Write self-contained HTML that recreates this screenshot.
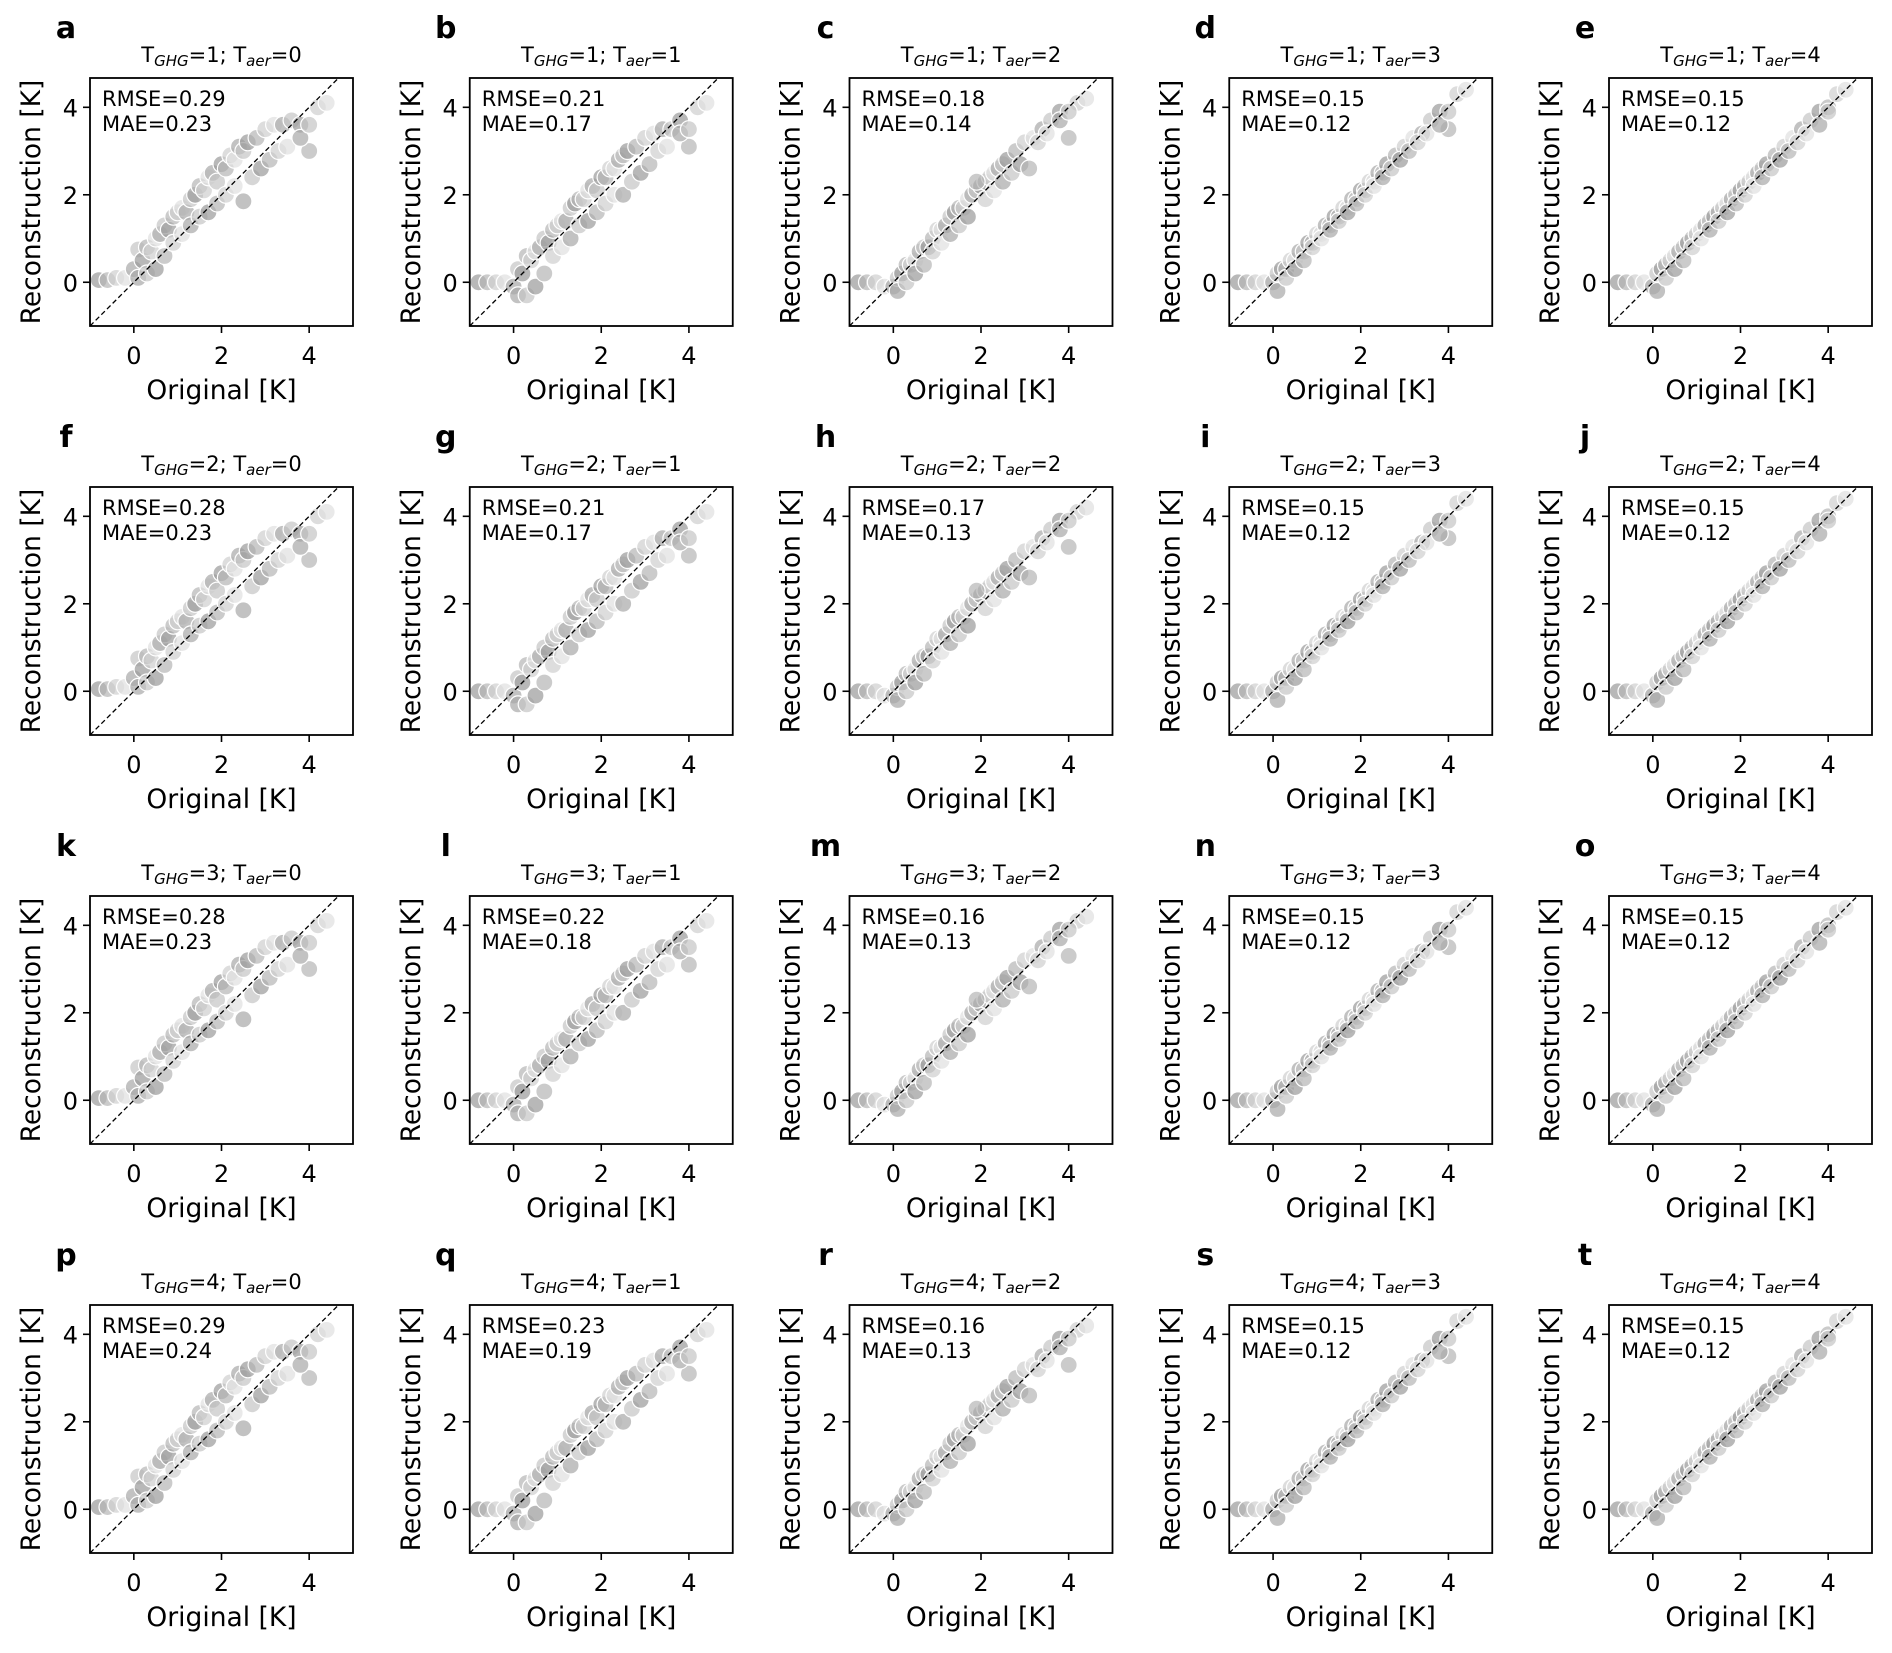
<!DOCTYPE html>
<html><head><meta charset="utf-8">
<style>
html,body{margin:0;padding:0;background:#fff;}
svg{display:block;font-family:"DejaVu Sans","Liberation Sans",sans-serif;}
</style></head>
<body>
<svg id="fig" width="1892" height="1653" viewBox="0 0 1892 1653" xmlns="http://www.w3.org/2000/svg"></svg>
<script>
const panelLetters = ["a","b","c","d","e","f","g","h","i","j","k","l","m","n","o","p","q","r","s","t"];
const ghgValues = [1,2,3,4];
const aerValues = [0,1,2,3,4];
const rmseValues = [0.29,0.21,0.18,0.15,0.15, 0.28,0.21,0.17,0.15,0.15, 0.28,0.22,0.16,0.15,0.15, 0.29,0.23,0.16,0.15,0.15];
const maeValues = [0.23,0.17,0.14,0.12,0.12, 0.23,0.17,0.13,0.12,0.12, 0.23,0.18,0.13,0.12,0.12, 0.24,0.19,0.13,0.12,0.12];
const xTicks = [0,2,4];
const yTicks = [0,2,4];
const original = [-0.8,-0.6,-0.4,-0.2,0.0,0.1,0.2,0.3,0.4,0.5,0.6,0.7,0.8,0.9,1.0,1.1,1.2,1.3,1.4,1.5,1.6,1.7,1.8,1.9,2.0,2.1,2.2,2.3,2.4,2.5,2.6,2.8,3.0,3.2,3.4,3.6,3.8,4.0,4.2,4.4,
 0.1,0.3,0.5,0.7,0.9,1.1,1.3,1.5,1.7,1.9,2.1,2.3,2.5,2.7,2.9,3.1,3.3,3.5,3.8,4.0];
const reconAer0 = [0.05,0.05,0.1,0.1,0.3,0.75,0.5,0.8,0.7,1.0,1.1,1.3,1.2,1.5,1.6,1.7,1.6,1.9,2.0,2.2,2.1,2.4,2.5,2.3,2.7,2.6,2.9,2.8,3.1,3.0,3.2,3.3,3.5,3.6,3.6,3.7,3.6,3.0,4.0,4.1,
 0.1,0.2,0.3,0.6,0.9,1.1,1.3,1.5,1.6,1.8,2.0,2.2,1.85,2.4,2.6,2.8,3.0,3.1,3.3,3.6];
const reconAer1 = [0.0,0.0,0.0,0.0,-0.1,0.3,0.2,0.6,0.5,0.7,0.8,1.0,0.9,1.2,1.3,1.4,1.4,1.7,1.8,1.9,1.9,2.1,2.2,2.1,2.4,2.4,2.6,2.6,2.8,2.9,3.0,3.1,3.3,3.4,3.5,3.5,3.7,3.1,4.0,4.1,
 -0.3,-0.3,-0.1,0.2,0.6,0.8,1.0,1.3,1.4,1.6,1.8,2.0,2.0,2.3,2.5,2.7,3.0,3.1,3.4,3.5];
const reconAer2 = [0.0,0.0,0.0,-0.1,-0.1,0.1,0.2,0.4,0.4,0.5,0.7,0.8,0.8,1.0,1.2,1.2,1.3,1.5,1.6,1.7,1.7,1.9,2.0,2.1,2.2,2.3,2.4,2.5,2.6,2.7,2.8,3.0,3.2,3.3,3.5,3.7,3.9,3.3,4.1,4.2,
 -0.2,0.0,0.2,0.4,0.7,0.9,1.1,1.3,1.5,2.3,1.9,2.1,2.3,2.5,2.7,2.6,3.2,3.4,3.7,3.9];
const reconAer3 = [0.0,0.0,0.0,0.0,0.0,0.2,0.3,0.3,0.5,0.5,0.7,0.7,0.9,0.9,1.1,1.1,1.3,1.3,1.5,1.5,1.7,1.7,1.9,1.9,2.1,2.1,2.3,2.3,2.5,2.5,2.7,2.9,3.1,3.3,3.4,3.7,3.9,3.5,4.3,4.4,
 -0.2,0.1,0.3,0.5,0.8,1.0,1.2,1.4,1.6,1.8,2.0,2.2,2.4,2.6,2.8,3.0,3.2,3.4,3.6,3.9];
const reconAer4 = [0.0,0.0,0.0,0.0,-0.1,0.2,0.3,0.4,0.5,0.6,0.7,0.8,0.9,1.0,1.1,1.2,1.3,1.4,1.5,1.6,1.7,1.8,1.9,2.0,2.1,2.2,2.3,2.4,2.5,2.6,2.7,2.9,3.1,3.3,3.5,3.7,3.9,4.0,4.3,4.4,
 -0.2,0.1,0.3,0.5,0.8,1.0,1.2,1.4,1.6,1.8,2.0,2.2,2.4,2.6,2.8,3.0,3.2,3.4,3.6,3.9];
const reconByAer = [reconAer0, reconAer1, reconAer2, reconAer3, reconAer4];

const NS = "http://www.w3.org/2000/svg";
const svg = document.getElementById("fig");
function mk(tag, attrs, parent){
  const e = document.createElementNS(NS, tag);
  for (const k in attrs) e.setAttribute(k, attrs[k]);
  (parent||svg).appendChild(e);
  return e;
}
const W = 263, H = 248, X0 = -1, X1 = 5, Y0 = -1, Y1 = 4.67;
const colStep = 379.75, rowStep = 409;
const shades = ["#9a9a9a","#b5b5b5","#cfcfcf","#e0e0e0","#a8a8a8","#c4c4c4"];

for (let r = 0; r < 4; r++) {
  for (let c = 0; c < 5; c++) {
    const i = r*5 + c;
    const L = 90 + c*colStep, T = 78 + r*rowStep, B = T + H;
    const xs = v => L + (v - X0) * W / (X1 - X0);
    const ys = v => B - (v - Y0) * H / (Y1 - Y0);
    const g = mk("g", {});
    
    

    const clipId = "clip" + i;
    const cp = mk("clipPath", {id: clipId}, g);
    mk("rect", {x: L, y: T, width: W, height: H}, cp);
    const pts = mk("g", {"clip-path": "url(#" + clipId + ")"}, g);
    
    
    const rec = reconByAer[c];
    for (let k = 0; k < original.length; k++) {
      const ci = mk("circle", {cx: xs(original[k]).toFixed(1), cy: ys(rec[k]).toFixed(1), r: 8.5,
        fill: shades[k % shades.length], "fill-opacity": 0.7, stroke: "#fff", "stroke-width": 1.2}, pts);
      
      
    }
    const dl = mk("line", {x1: xs(-1), y1: ys(-1), x2: xs(5), y2: ys(5), stroke: "#000", "stroke-width": 1.3, "stroke-dasharray": "5,3"}, pts);
    
    

    const frame = mk("rect", {x: L, y: T, width: W, height: H, fill: "none", stroke: "#000", "stroke-width": 1.8}, g);
    
    

    for (const t of xTicks) {
      const x = xs(t);
      mk("line", {x1: x, y1: B, x2: x, y2: B + 7, stroke: "#000", "stroke-width": 1.6}, g);
      const tl = mk("text", {x: x, y: B + 38, "font-size": 24, "text-anchor": "middle"}, g);
      tl.textContent = t;
      
      
    }
    for (const t of yTicks) {
      const y = ys(t);
      mk("line", {x1: L - 7, y1: y, x2: L, y2: y, stroke: "#000", "stroke-width": 1.6}, g);
      const tl = mk("text", {x: L - 12, y: y + 9, "font-size": 24, "text-anchor": "end"}, g);
      tl.textContent = t;
      
      
    }
    const xl = mk("text", {x: L + W/2, y: B + 73, "font-size": 26.5, "text-anchor": "middle"}, g);
    xl.textContent = "Original [K]";
    
    
    const yl = mk("text", {x: 0, y: 0, "font-size": 26.5, "text-anchor": "middle", transform: "translate(" + (L - 50) + "," + (T + H/2) + ") rotate(-90)"}, g);
    yl.textContent = "Reconstruction [K]";
    
    

    const lt = mk("text", {x: L - 24, y: T - 40, "font-size": 30, "font-weight": "bold", "text-anchor": "middle"}, g);
    lt.textContent = panelLetters[i];
    
    

    const ti = mk("text", {x: L + W/2, y: T - 16, "font-size": 21, "text-anchor": "middle"}, g);
    
    
    ti.innerHTML = 'T<tspan font-size="15" font-style="italic" dy="4">GHG</tspan><tspan dy="-4">=' + ghgValues[r] + '; T</tspan><tspan font-size="15" font-style="italic" dy="4">aer</tspan><tspan dy="-4">=' + aerValues[c] + '</tspan>';

    const s1 = mk("text", {x: L + 12, y: T + 28, "font-size": 21}, g);
    s1.textContent = "RMSE=" + rmseValues[i].toFixed(2);
    
    
    const s2 = mk("text", {x: L + 12, y: T + 53, "font-size": 21}, g);
    s2.textContent = "MAE=" + maeValues[i].toFixed(2);
    
    
  }
}
</script>
</body></html>
